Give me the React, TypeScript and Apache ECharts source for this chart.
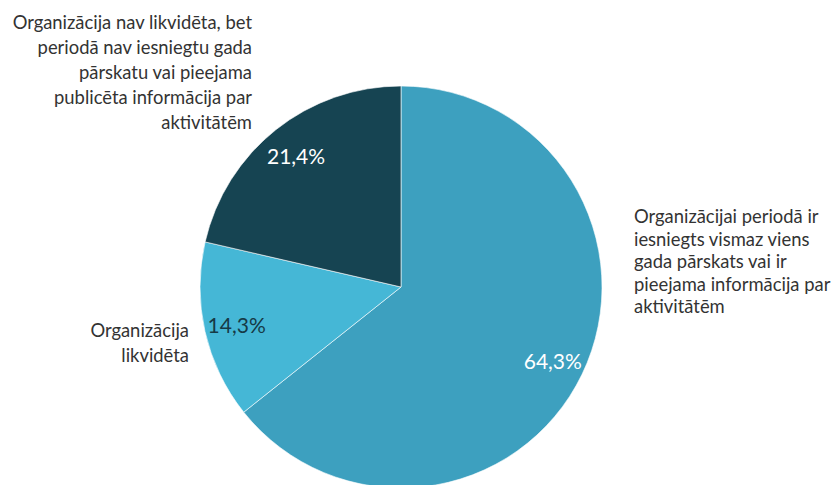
import React, { useEffect, useRef } from "react";
import * as echarts from "echarts";

const categories = [
  "Organizācijai periodā ir\niesniegts vismaz viens\ngada pārskats vai ir\npieejama informācija par\naktivitātēm",
  "Organizācija\nlikvidēta",
  "Organizācija nav likvidēta, bet\nperiodā nav iesniegtu gada\npārskatu vai pieejama\npublicēta informācija par\naktivitātēm",
];
const values = [64.3, 14.3, 21.4];
const colors = ["#3DA0BF", "#45B7D6", "#164452"];
const pctColors = ["#FFFFFF", "#163A46", "#FFFFFF"];

const FONT = "Lato, 'Open Sans', sans-serif";

export default function App() {
  const ref = useRef<HTMLDivElement>(null);
  useEffect(() => {
    if (!ref.current) return;
    const chart = echarts.init(ref.current, undefined, { renderer: "svg" });
    const center = [401, 287];
    const R = 201;
    const outerPos = [
      { x: 634, y: 205, align: "left", lh: 22.5 },
      { x: 189, y: 317, align: "right", lh: 25 },
      { x: 252, y: 9, align: "right", lh: 25 },
    ];
    chart.setOption({
      animation: false,
      backgroundColor: "#ffffff",
      series: [
        {
          type: "pie",
          center,
          radius: [0, R],
          startAngle: 90,
          clockwise: true,
          silent: true,
          label: { show: false },
          labelLine: { show: false },
          itemStyle: { borderColor: "#ffffff", borderWidth: 0.6 },
          data: values.map((v, i) => ({
            value: v,
            name: categories[i],
            itemStyle: { color: colors[i] },
          })),
        },
        {
          type: "pie",
          center,
          radius: [130, R],
          startAngle: 90,
          clockwise: true,
          silent: true,
          labelLine: { show: false },
          data: values.map((v, i) => ({
            value: v,
            name: categories[i],
            itemStyle: { color: "rgba(0,0,0,0)" },
            label: {
              show: true,
              position: "inside",
              color: pctColors[i],
              fontFamily: FONT,
              fontSize: 21,
              formatter: () => v.toFixed(1).replace(".", ",") + "%",
            },
          })),
        },
        {
          type: "pie",
          center,
          radius: [0, R],
          startAngle: 90,
          clockwise: true,
          silent: true,
          itemStyle: { color: "rgba(0,0,0,0)" },
          label: {
            show: true,
            position: "inside",
            overflow: "none",
            color: "#333333",
            fontFamily: FONT,
            fontSize: 18.4,
            formatter: (p: any) => p.name,
          },
          labelLine: { show: false },
          labelLayout: (p: any) => {
            const o = outerPos[p.dataIndex];
            return { x: o.x, y: o.y, align: o.align, verticalAlign: "top" };
          },
          data: values.map((v, i) => ({
            value: v,
            name: categories[i],
            label: { align: outerPos[i].align, lineHeight: outerPos[i].lh },
          })),
        },
      ],
    });
    return () => chart.dispose();
  }, []);
  return (
    <div
      ref={ref}
      style={{ position: "absolute", left: 0, top: 0, width: 840, height: 485 }}
    />
  );
}
